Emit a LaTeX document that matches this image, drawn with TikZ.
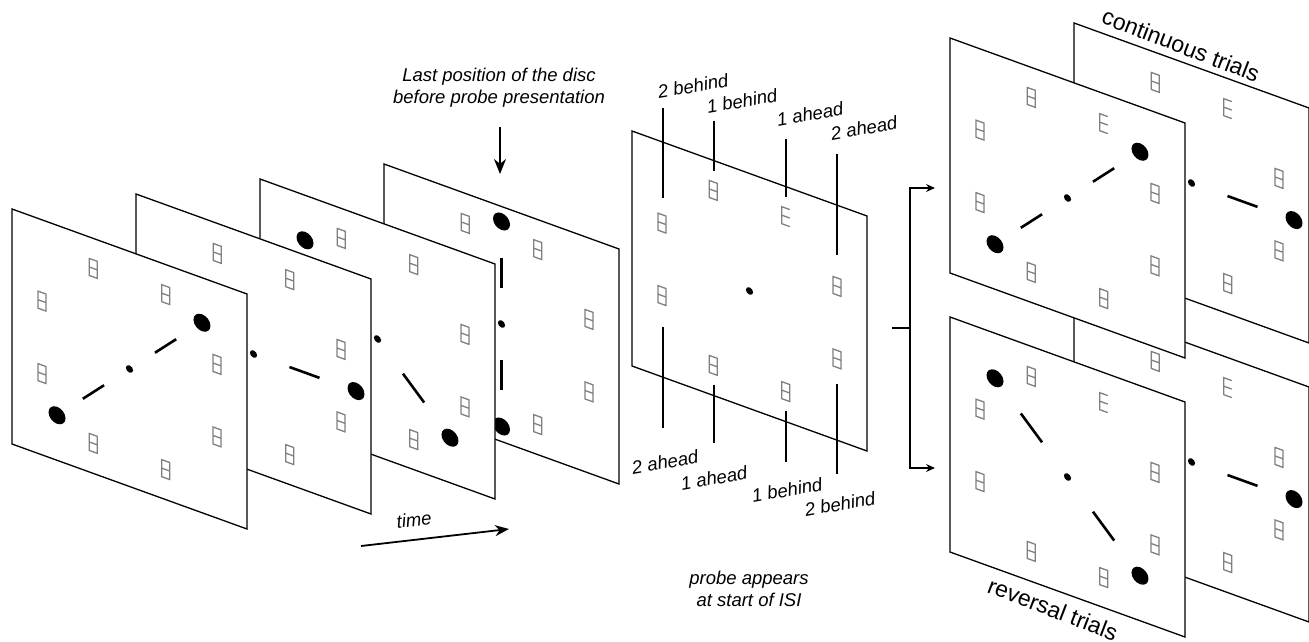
\documentclass[tikz,border=0pt]{standalone}
\usepackage{fontspec}
\setmainfont{Liberation Sans}
\usetikzlibrary{arrows.meta}
\tikzset{
  panel/.style={draw=black, fill=white, line width=1.3pt},
  mk/.style={draw=black!50, line width=1.3pt},
  seg/.style={line width=2.6pt},
  pointer/.style={draw=black, line width=1.3pt},
  lab/.style={font=\fontsize{18.5}{22}\selectfont\itshape, inner sep=0pt},
  biglab/.style={font=\fontsize{23}{27}\selectfont, inner sep=0pt},
  conn/.style={draw=black, line width=1.2pt},
}
\newcommand{\clockpanel}[5]{%
  \begin{scope}[cm={1,-0.3617,0,1,(#1,-#2)}]
    \draw[panel] (0,0) rectangle (235,-235);
    \begin{scope}[shift={(117.5,-117.5)}]
      \foreach \a in {22.5,112.5,157.5,202.5,247.5,292.5,337.5}
        {\draw[mk] (\a:94.7) +(-4,-8.5) rectangle +(4,8.5) +(-4,0) -- +(4,0);}
      \ifnum#4=1
        \draw[mk] (67.5:94.7) +(4,8.5) -- +(-4,8.5) -- +(-4,-8.5) -- +(4,-8.5) +(-4,0) -- +(4,0);
      \else
        \draw[mk] (67.5:94.7) +(-4,-8.5) rectangle +(4,8.5) +(-4,0) -- +(4,0);
      \fi
      \fill (0,0) circle[radius=3.6];
      \ifnum#5=1
        \fill (#3:102.5) circle[radius=8.5];
        \fill ({#3+180}:102.5) circle[radius=8.5];
        \draw[seg] (#3:36) -- (#3:66);
        \draw[seg] ({#3+180}:36) -- ({#3+180}:66);
      \fi
    \end{scope}
  \end{scope}}
\begin{document}
\begin{tikzpicture}[x=1pt,y=1pt]
\useasboundingbox (0,0) rectangle (1309,-642);
% left stack (back to front)
\clockpanel{384}{164}{90}{0}{1}
\clockpanel{260}{179}{135}{0}{1}
\clockpanel{136}{194}{0}{0}{1}
\clockpanel{12}{209}{45}{0}{1}
% middle probe panel
\clockpanel{632}{131}{0}{1}{0}
% right panels
\clockpanel{1074}{302}{0}{1}{1}
\clockpanel{1074}{23}{0}{1}{1}
\clockpanel{950}{38}{45}{1}{1}
\clockpanel{950}{317}{135}{1}{1}

% pointer ticks around probe panel
\draw[pointer] (663,-108) -- (663,-198);
\draw[pointer] (714,-121) -- (714,-171);
\draw[pointer] (786,-139) -- (786,-197);
\draw[pointer] (837,-154) -- (837,-255);
\draw[pointer] (663,-327) -- (663,-428);
\draw[pointer] (714,-385) -- (714,-443);
\draw[pointer] (786,-411) -- (786,-462);
\draw[pointer] (837,-384) -- (837,-474);

% labels
\node[lab, rotate=10] (tb2) at (693,-86) {2 behind};
\node[lab, rotate=10] (tb1) at (742,-101) {1 behind};
\node[lab, rotate=10] (ta1) at (810,-114) {1 ahead};
\node[lab, rotate=10] (ta2) at (864,-128) {2 ahead};
\node[lab, rotate=10] (ba2) at (665,-462) {2 ahead};
\node[lab, rotate=10] (ba1) at (714,-478) {1 ahead};
\node[lab, rotate=10] (bb1) at (787,-490) {1 behind};
\node[lab, rotate=10] (bb2) at (840,-504) {2 behind};
\node[lab, align=center] (probe) at (749,-589) {probe appears\\at start of ISI};
\node[lab, align=center] (lastpos) at (499,-88) {Last position of the disc\\before probe presentation};
\node[lab, rotate=6.5] (time) at (414,-520) {time};
\node[biglab, rotate=-21] (cont) at (1181,-45) {continuous trials};
\node[biglab, rotate=-21] (rev) at (1053,-609) {reversal trials};

% arrows
\coordinate (dA) at (500,-127);
\coordinate (dB) at (500,-174);
\draw[line width=1.5pt, -{Stealth[length=15pt,width=12pt]}] (dA) -- (dB);
\coordinate (tA) at (361,-546);
\coordinate (tB) at (509,-529);
\draw[line width=1.8pt, -{Stealth[length=14pt,width=11pt]}] (tA) -- (tB);

% fork connector
\coordinate (f0) at (892,-328);
\coordinate (f1) at (910,-328);
\coordinate (fT) at (910,-188);
\coordinate (fB) at (910,-468);
\coordinate (eT) at (935,-188);
\coordinate (eB) at (935,-468);
\draw[conn] (f0) -- (f1);
\draw[conn, -{Stealth[length=9pt,width=8pt]}] (f1) -- (fT) -- (eT);
\draw[conn, -{Stealth[length=9pt,width=8pt]}] (f1) -- (fB) -- (eB);
\end{tikzpicture}
\end{document}
